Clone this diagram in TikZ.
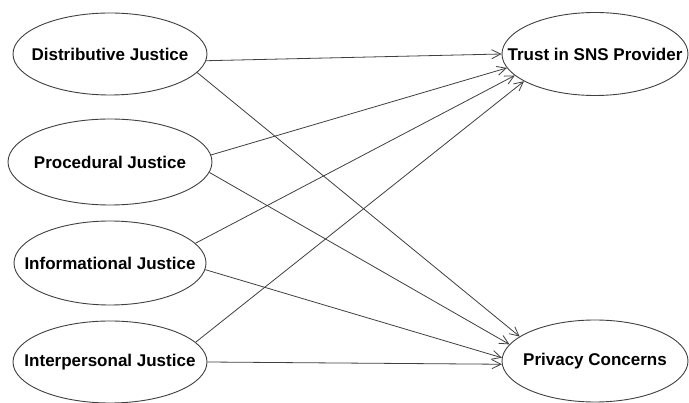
\documentclass[tikz,border=0pt]{standalone}
\usepackage{fontspec}
\setmainfont{Liberation Sans}
\usetikzlibrary{shapes.geometric,arrows.meta}
\begin{document}
\begin{tikzpicture}[x=1pt,y=-1pt,
  construct/.style={ellipse,draw=black!75,line width=0.9pt,inner sep=0pt,
    font=\fontsize{17}{20}\selectfont\bfseries},
  link/.style={draw=black!75,line width=0.8pt,-{Straight Barb[length=9pt,width=9pt,line width=0.8pt]}}]
\useasboundingbox[fill=white] (0,0) rectangle (689,403);
\node[construct,minimum width=194pt,minimum height=82pt] (dj) at (110,54) {\makebox[0pt]{Distributive Justice}};
\node[construct,minimum width=204pt,minimum height=86pt] (pj) at (110,162) {\makebox[0pt]{Procedural Justice}};
\node[construct,minimum width=192pt,minimum height=84pt] (ij) at (110,263) {\makebox[0pt]{Informational Justice}};
\node[construct,minimum width=194pt,minimum height=82pt] (ipj) at (110,362) {\makebox[0pt]{Interpersonal Justice}};
\node[construct,minimum width=186pt,minimum height=83pt] (tr) at (595,54) {\makebox[0pt]{Trust in SNS Provider}};
\node[construct,minimum width=186pt,minimum height=82pt] (pc) at (595,361) {\makebox[0pt]{Privacy Concerns}};
\draw[link] (dj.-4) -- (tr.180);
\draw[link] (dj.-12) -- (pc.162);
\draw[link] (pj.4) -- (tr.189);
\draw[link] (pj.-6) -- (pc.169);
\draw[link] (ij.13) -- (tr.195);
\draw[link] (ij.-4) -- (pc.178);
\draw[link] (ipj.13) -- (tr.201);
\draw[link] (ipj.0) -- (pc.182);
\end{tikzpicture}
\end{document}
